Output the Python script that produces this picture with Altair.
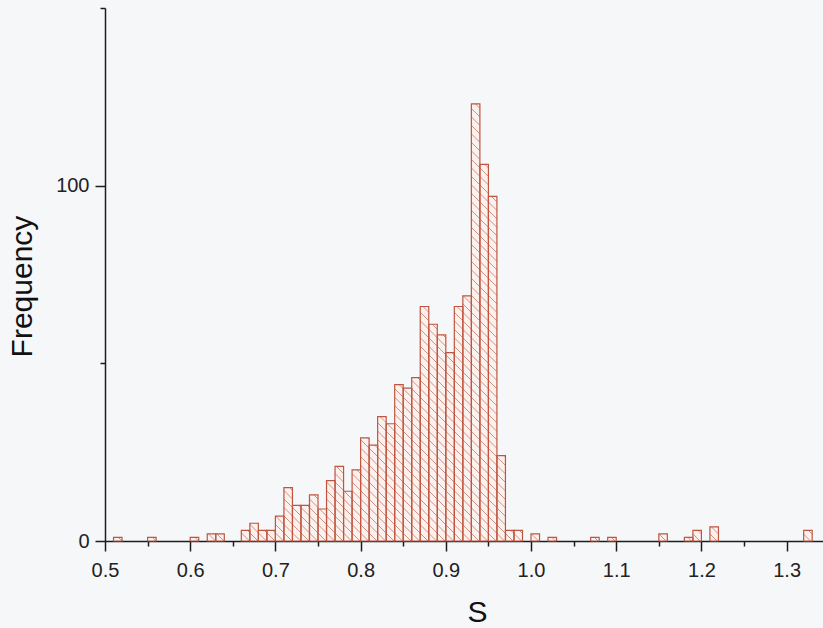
import math
import altair as alt
import pandas as pd

# ---- data (bin lower edge, count) ----
bin_starts = [0.51, 0.55, 0.60, 0.62, 0.63, 0.66, 0.67, 0.68, 0.69, 0.70,
              0.71, 0.72, 0.73, 0.74, 0.75, 0.76, 0.77, 0.78, 0.79, 0.80,
              0.81, 0.82, 0.83, 0.84, 0.85, 0.86, 0.87, 0.88, 0.89, 0.90,
              0.91, 0.92, 0.93, 0.94, 0.95, 0.96, 0.97, 0.98, 1.00, 1.02,
              1.07, 1.09, 1.15, 1.18, 1.19, 1.21, 1.32]
counts = [1, 1, 1, 2, 2, 3, 5, 3, 3, 7,
          15, 10, 10, 13, 9, 17, 21, 14, 20, 29,
          27, 35, 33, 44, 43, 46, 66, 61, 58, 53,
          66, 69, 123, 106, 97, 24, 3, 3, 2, 1,
          1, 1, 2, 1, 3, 4, 3]
BIN_W = 0.01

x_major = [0.5, 0.6, 0.7, 0.8, 0.9, 1.0, 1.1, 1.2, 1.3]
x_minor = [0.55, 0.65, 0.75, 0.85, 0.95, 1.05, 1.15, 1.25]
y_major = [0, 100]
y_minor = [50, 150]

X_DOMAIN = [0.5, 1.3427]
Y_DOMAIN = [0, 150]
W, H = 718, 533

FONT = "Liberation Sans"
OUTLINE = "#bf5540"
HATCH = "#d4907f"
FILL = "#fbf2ef"
AXIS = "#1c1c1c"

bars = pd.DataFrame({
    "x0": bin_starts,
    "x1": [round(b + BIN_W, 4) for b in bin_starts],
    "count": counts,
    "base": [0] * len(counts),
})

# ---- hatch segments ("\\\" pattern), derived from each bar through the scales ----
px_x = W / (X_DOMAIN[1] - X_DOMAIN[0])
px_y = H / (Y_DOMAIN[1] - Y_DOMAIN[0])
SPACING = 8.5
rows = []
for x0, x1, h in zip(bars["x0"], bars["x1"], bars["count"]):
    X0 = (x0 - X_DOMAIN[0]) * px_x
    X1 = (x1 - X_DOMAIN[0]) * px_x
    Hp = h * px_y
    n0 = math.ceil(X0 / SPACING)
    n1 = math.floor((X1 + Hp) / SPACING)
    for n in range(n0, n1 + 1):
        c = n * SPACING
        xa = max(X0, c - Hp)
        xb = min(X1, c)
        if xb - xa < 0.8:
            continue
        rows.append({
            "hx": xa / px_x + X_DOMAIN[0],
            "hy": (c - xa) / px_y,
            "hx2": xb / px_x + X_DOMAIN[0],
            "hy2": (c - xb) / px_y,
        })
hatch = pd.DataFrame(rows)

xscale = alt.Scale(domain=X_DOMAIN, nice=False, zero=False)
yscale = alt.Scale(domain=Y_DOMAIN, nice=False, zero=False)

major_x_axis = alt.Axis(values=x_major, format=".1f", tickSize=10, tickWidth=1.5,
                        domainWidth=1.5, domainColor=AXIS, tickColor=AXIS,
                        labelFont=FONT, labelFontSize=20, labelColor="#222",
                        labelPadding=9, grid=False, title="S", titleFont=FONT,
                        titleFontSize=30, titleFontWeight="normal", titleColor="#111",
                        titleX=372, titleY=80, titleBaseline="alphabetic",
                        titleAlign="center", orient="bottom", labelFlush=False,
                        labelOverlap=False)
major_y_axis = alt.Axis(values=y_major, tickSize=10, tickWidth=1.5,
                        domainWidth=1.5, domainColor=AXIS, tickColor=AXIS,
                        labelFont=FONT, labelFontSize=20, labelColor="#222",
                        labelPadding=6, grid=False, title="Frequency", titleFont=FONT,
                        titleFontSize=30, titleFontWeight="normal", titleColor="#111",
                        titleAngle=270, titleX=-74, titleY=278,
                        titleBaseline="alphabetic", titleAlign="center",
                        orient="left", labelFlush=False, labelOverlap=False)
minor_x_axis = alt.Axis(values=x_minor, tickSize=5, tickWidth=1.5, tickColor=AXIS,
                        labels=False, domain=False, grid=False, title="",
                        orient="bottom")
minor_y_axis = alt.Axis(values=y_minor, tickSize=5, tickWidth=1.5, tickColor=AXIS,
                        labels=False, domain=False, grid=False, title="",
                        orient="left")

fill_layer = alt.Chart(bars).mark_rect(fill=FILL, strokeWidth=0).encode(
    x=alt.X("x0:Q", scale=xscale, axis=None),
    x2="x1",
    y=alt.Y("count:Q", scale=yscale, axis=None),
    y2="base",
)

hatch_layer = alt.Chart(hatch).mark_rule(color=HATCH, strokeWidth=1.0).encode(
    x=alt.X("hx:Q", scale=xscale, axis=minor_x_axis),
    x2="hx2",
    y=alt.Y("hy:Q", scale=yscale, axis=minor_y_axis),
    y2="hy2",
)

outline_layer = alt.Chart(bars).mark_rect(
    fill="transparent", stroke=OUTLINE, strokeWidth=1.2
).encode(
    x=alt.X("x0:Q", scale=xscale, axis=major_x_axis),
    x2="x1",
    y=alt.Y("count:Q", scale=yscale, axis=major_y_axis),
    y2="base",
)

chart = alt.layer(fill_layer, hatch_layer, outline_layer).resolve_axis(
    x="independent", y="independent"
).properties(
    width=W,
    height=H,
    autosize=alt.AutoSizeParams(type="none"),
    padding={"left": 105, "top": 8, "right": 0, "bottom": 87},
    background="#f6f7f9",
).configure_view(stroke=None)

chart.save("out.html", embed_options={"renderer": "svg", "actions": False})
